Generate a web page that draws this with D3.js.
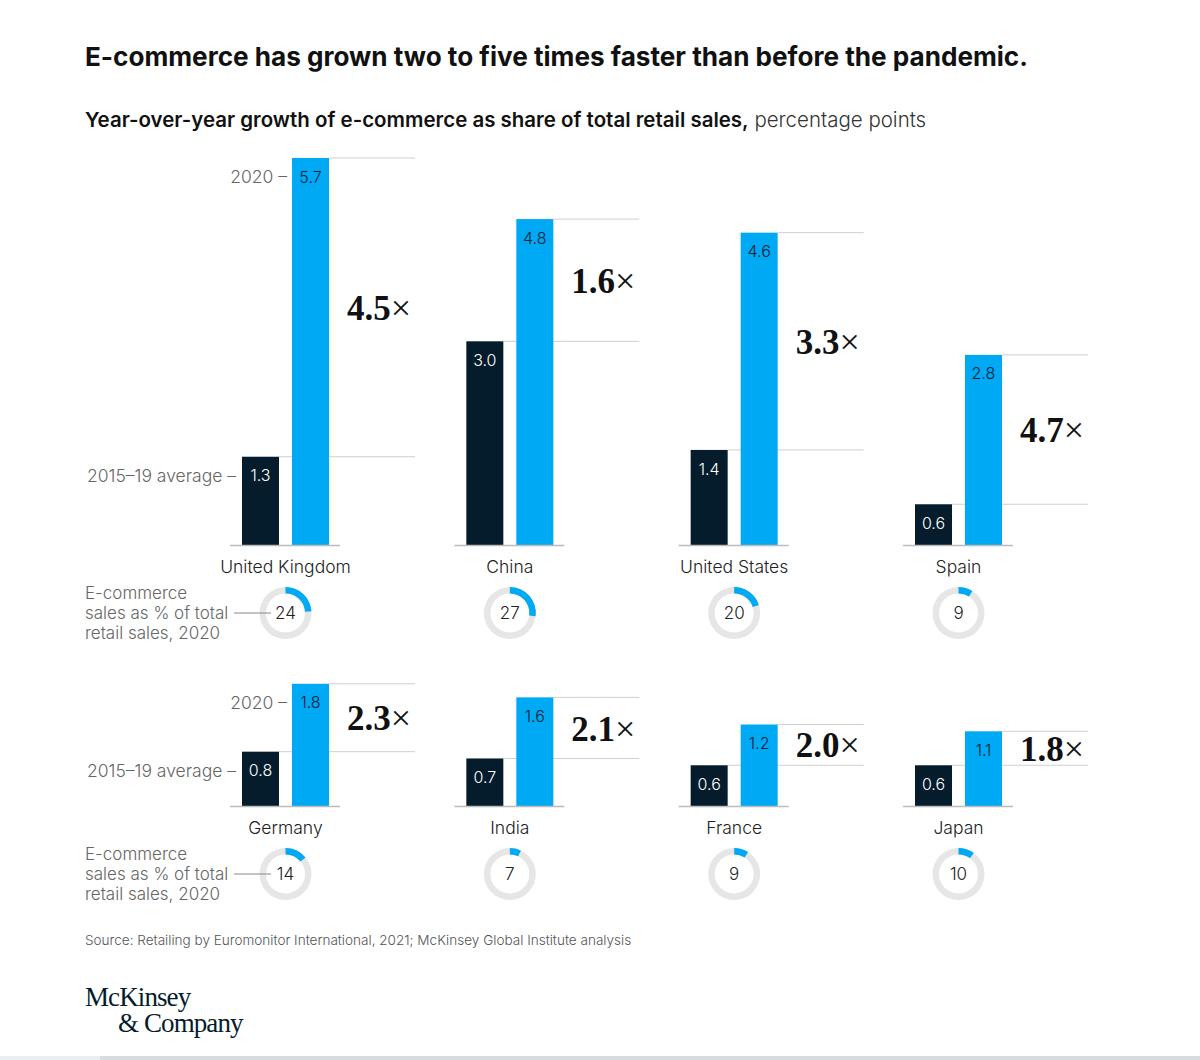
<!DOCTYPE html>
<html>
<head>
<meta charset="utf-8">
<script src="https://cdn.jsdelivr.net/npm/d3@7"></script>
<style>
  body { margin: 0; background: #fff; }
  text { font-family: Inter, "Liberation Sans", Arial, sans-serif; }
  text.serif { font-family: "Liberation Serif", "DejaVu Serif", serif; }
</style>
</head>
<body>
<script>

// data
var countries = ["United Kingdom", "China", "United States", "Spain",
                 "Germany", "India", "France", "Japan"];
var avg_1519 = [1.3, 3.0, 1.4, 0.6, 0.8, 0.7, 0.6, 0.6];
var growth_2020 = [5.7, 4.8, 4.6, 2.8, 1.8, 1.6, 1.2, 1.1];
var multiples = ["4.5", "1.6", "3.3", "4.7", "2.3", "2.1", "2.0", "1.8"];
var ecom_share = [24, 27, 20, 9, 14, 7, 9, 10];
var annot_lines = ["E-commerce", "sales as % of total", "retail sales, 2020"];

var width = 1200, height = 1060;
var navy = "#051c2c", blue = "#00a9f4", grey = "#cfcfcf";

var svg = d3.select("body")
  .append("svg")
  .attr("width", width)
  .attr("height", height);

// fit a text element to a target width by scaling its font size
function fit(sel, target) {
  var w = sel.node().getComputedTextLength();
  var fs = parseFloat(sel.attr("font-size"));
  sel.attr("font-size", fs * target / w);
}

// title and subtitle
var title = svg.append("text")
  .attr("x", 85).attr("y", 66)
  .attr("font-size", 24).attr("font-weight", "bold").attr("fill", "#111")
  .text("E-commerce has grown two to five times faster than before the pandemic.");
fit(title, 943);

var sub = svg.append("text")
  .attr("x", 85).attr("y", 127)
  .attr("font-size", 19).attr("fill", "#111");
sub.append("tspan").attr("font-weight", 600)
  .text("Year-over-year growth of e-commerce as share of total retail sales,");
sub.append("tspan").attr("fill", "#333").attr("font-weight", 300).text(" percentage points");
fit(sub, 842);

// scales
var x = d3.scaleLinear().domain([0, 3]).range([242, 915]);
var h = d3.scaleLinear().domain([0, 1]).range([0, 67.9]);
var baselines = [545, 806];
var barW = 37, gap = 13;

var arc = d3.arc().innerRadius(19.5).outerRadius(26);

countries.forEach(function(name, i) {
  var row = Math.floor(i / 4);
  var g0 = x(i % 4);
  var base = baselines[row];
  var yAvg = base - h(avg_1519[i]);
  var y20 = base - h(growth_2020[i]);
  var bx = g0 + barW + gap;
  var cx = g0 + (barW * 2 + gap) / 2;

  var g = svg.append("g").attr("class", "country");

  // reference lines
  g.append("line")
    .attr("x1", g0 + barW).attr("x2", g0 + 173)
    .attr("y1", yAvg).attr("y2", yAvg)
    .attr("stroke", grey).attr("stroke-width", 1);
  g.append("line")
    .attr("x1", bx + barW).attr("x2", g0 + 173)
    .attr("y1", y20).attr("y2", y20)
    .attr("stroke", grey).attr("stroke-width", 1);

  // bars
  g.append("rect")
    .attr("x", g0).attr("y", yAvg)
    .attr("width", barW).attr("height", h(avg_1519[i]))
    .attr("fill", navy);
  g.append("rect")
    .attr("x", bx).attr("y", y20)
    .attr("width", barW).attr("height", h(growth_2020[i]))
    .attr("fill", blue);

  // baseline
  g.append("line")
    .attr("x1", g0 - 12).attr("x2", g0 + 98)
    .attr("y1", base + 0.5).attr("y2", base + 0.5)
    .attr("stroke", "#bbb").attr("stroke-width", 1.5);

  // value labels inside bars
  g.append("text")
    .attr("x", g0 + barW / 2).attr("y", yAvg + 19)
    .attr("dy", "0.35em").attr("text-anchor", "middle")
    .attr("font-size", 16).attr("font-weight", 300).attr("fill", "#fff")
    .text(avg_1519[i].toFixed(1));
  g.append("text")
    .attr("x", bx + barW / 2).attr("y", y20 + 19)
    .attr("dy", "0.35em").attr("text-anchor", "middle")
    .attr("font-size", 16).attr("font-weight", 300).attr("fill", "#0b2233")
    .text(growth_2020[i].toFixed(1));

  // multiplier
  var m = g.append("text")
    .attr("class", "serif")
    .attr("x", bx + barW + 18).attr("y", (yAvg + y20) / 2)
    .attr("dy", "0.36em")
    .attr("font-size", 35).attr("fill", "#111");
  m.append("tspan").attr("font-weight", "bold").text(multiples[i]);
  m.append("tspan").attr("font-size", 36).text("\u00d7");

  // country name
  g.append("text")
    .attr("x", cx).attr("y", base + 21.5)
    .attr("dy", "0.35em").attr("text-anchor", "middle")
    .attr("font-size", 17.5).attr("font-weight", 300).attr("fill", "#222")
    .text(name);

  // donut
  var cy = base + 68;
  var dg = g.append("g")
    .attr("transform", "translate(" + cx + "," + cy + ")");
  dg.append("path")
    .attr("d", arc({startAngle: 0, endAngle: 2 * Math.PI}))
    .attr("fill", "#e6e6e6");
  dg.append("path")
    .attr("d", arc({startAngle: 0, endAngle: 2 * Math.PI * ecom_share[i] / 100}))
    .attr("fill", blue);
  dg.append("text")
    .attr("dy", "0.36em").attr("text-anchor", "middle")
    .attr("font-size", 17).attr("font-weight", 300).attr("fill", "#222")
    .text(ecom_share[i]);

  // left-hand annotations on the first column
  if (i % 4 == 0) {
    g.append("text")
      .attr("x", bx - 5).attr("y", y20 + 19)
      .attr("dy", "0.35em").attr("text-anchor", "end")
      .attr("font-size", 17.5).attr("font-weight", 300).attr("fill", "#666")
      .text("2020 \u2013");
    g.append("text")
      .attr("x", g0 - 6).attr("y", yAvg + 19)
      .attr("dy", "0.35em").attr("text-anchor", "end")
      .attr("font-size", 17.5).attr("font-weight", 300).attr("fill", "#666")
      .text("2015\u201319 average \u2013");

    annot_lines.forEach(function(t, k) {
      g.append("text")
        .attr("x", 85).attr("y", cy + (k - 1) * 20)
        .attr("dy", "0.35em")
        .attr("font-size", 17).attr("font-weight", 300).attr("fill", "#666")
        .text(t);
    });
    g.append("line")
      .attr("x1", 234).attr("x2", 271)
      .attr("y1", cy).attr("y2", cy)
      .attr("stroke", "#888").attr("stroke-width", 1);
  }
});

// source
var src = svg.append("text")
  .attr("x", 85).attr("y", 940)
  .attr("dy", "0.35em")
  .attr("font-size", 13).attr("font-weight", 300).attr("fill", "#555")
  .text("Source: Retailing by Euromonitor International, 2021; McKinsey Global Institute analysis");
fit(src, 547);

// logo
svg.append("text")
  .attr("class", "serif")
  .attr("x", 85).attr("y", 1006)
  .attr("font-size", 27).attr("letter-spacing", -0.9).attr("fill", navy)
  .text("McKinsey");
svg.append("text")
  .attr("class", "serif")
  .attr("x", 118).attr("y", 1032)
  .attr("font-size", 27).attr("letter-spacing", -0.9).attr("fill", navy)
  .text("& Company");

// bottom strip
svg.append("rect")
  .attr("x", 0).attr("y", 1056).attr("width", width).attr("height", 4)
  .attr("fill", "#eceff1");
svg.append("rect")
  .attr("x", 100).attr("y", 1056).attr("width", width - 100).attr("height", 4)
  .attr("fill", "#d9dcdf");

</script>
</body>
</html>
